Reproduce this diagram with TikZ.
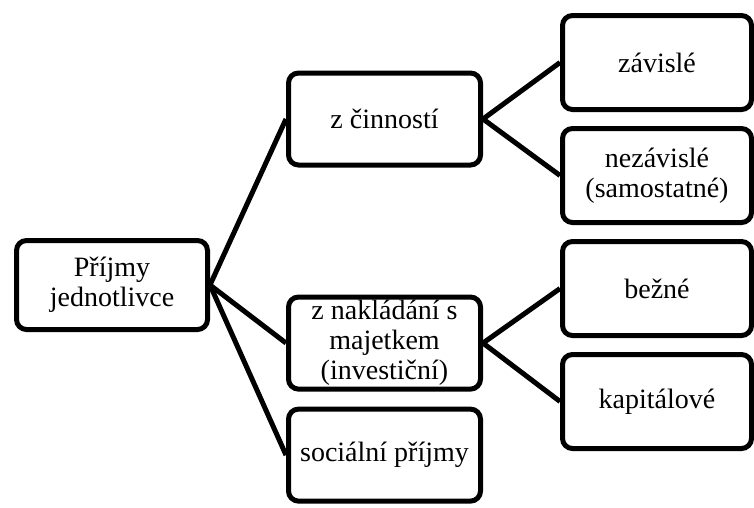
\documentclass[tikz,border=0pt]{standalone}
\usepackage{fontspec}
\newfontfamily\boxfont{Liberation Serif}
\usetikzlibrary{positioning}

\begin{document}
\begin{tikzpicture}[
  x=1pt, y=1pt,
  box/.style={draw, line width=5pt, rounded corners=10pt, align=center,
              font=\boxfont\fontsize{28}{30}\selectfont},
  root/.style={box, minimum width=191pt, minimum height=89pt},
  mid/.style={box, minimum width=192pt, minimum height=92pt},
  leaf/.style={box, minimum width=189pt, minimum height=94pt},
  link/.style={line width=5pt}
]
  \useasboundingbox (0,0) rectangle (754,-507);

  \node[root] (P) at (112,-285) {Příjmy\\jednotlivce};

  \node[mid] (C) at (384.5,-119) {z činností};
  \node[mid, below=127pt of C] (N) {z nakládání s\\majetkem\\(investiční)};
  \node[mid, below=15pt of N] (S) {sociální příjmy};

  \node[leaf] (Z) at (657,-62.5) {závislé};
  \node[leaf, below=14pt of Z] (NZ) {nezávislé\\(samostatné)};
  \node[leaf, below=14pt of NZ] (B) {bežné};
  \node[leaf, below=14pt of B] (K) {kapitálové};

  \draw[link] (P.east) -- (C.west);
  \draw[link] (P.east) -- (N.west);
  \draw[link] (P.east) -- (S.west);
  \draw[link] (C.east) -- (Z.west);
  \draw[link] (C.east) -- (NZ.west);
  \draw[link] (N.east) -- (B.west);
  \draw[link] (N.east) -- (K.west);
\end{tikzpicture}
\end{document}
